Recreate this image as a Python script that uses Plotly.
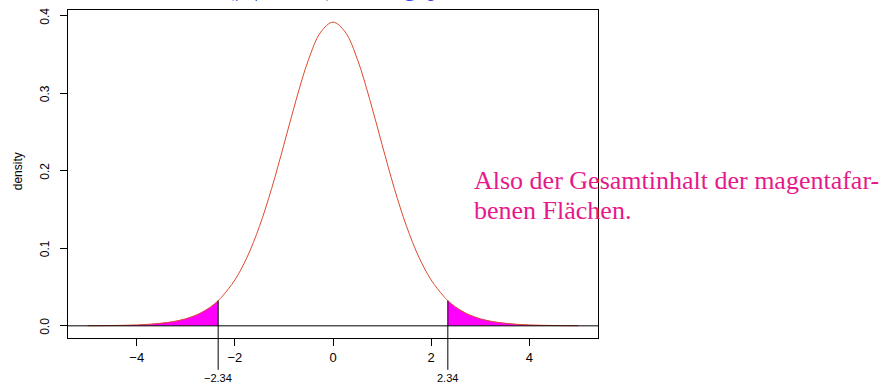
import plotly.graph_objects as go

# density curve
x_vals = [-5, -4.75, -4.5, -4.25, -4, -3.75, -3.5, -3.25, -3, -2.75, -2.5, -2.34, -2.25, -2,
          -1.75, -1.5, -1.25, -1, -0.75, -0.5, -0.25, 0,
          0.25, 0.5, 0.75, 1, 1.25, 1.5, 1.75, 2, 2.25, 2.34, 2.5, 2.75, 3, 3.25, 3.5,
          3.75, 4, 4.25, 4.5, 4.75, 5]
y_vals = [0.00015, 0.00025, 0.00042, 0.00070, 0.00118, 0.00197, 0.00330, 0.00551, 0.00912,
          0.0149, 0.0241, 0.0325, 0.0385, 0.0591, 0.0886, 0.1280, 0.1772, 0.2337, 0.2917,
          0.3431, 0.3788, 0.3916,
          0.3788, 0.3431, 0.2917, 0.2337, 0.1772, 0.1280, 0.0886, 0.0591, 0.0385, 0.0325,
          0.0241, 0.0149, 0.00912, 0.00551, 0.00330, 0.00197, 0.00118, 0.00070, 0.00042,
          0.00025, 0.00015]
crit = 2.34
x_ticks = [-4, -2, 0, 2, 4]
y_ticks = [0.0, 0.1, 0.2, 0.3, 0.4]

x_range = [-5.4, 5.4]
y_range = [-0.0157, 0.4073]

fig = go.Figure()

# magenta tails
left = [(a, b) for a, b in zip(x_vals, y_vals) if a <= -crit]
right = [(a, b) for a, b in zip(x_vals, y_vals) if a >= crit]
for pts in (left, right):
    xs = [p[0] for p in pts]
    ys = [p[1] for p in pts]
    fig.add_trace(go.Scatter(x=xs + [xs[-1], xs[0]], y=ys + [0, 0], fill="toself",
                             fillcolor="#ff00ff", line=dict(width=0), mode="lines",
                             hoverinfo="skip"))

fig.add_trace(go.Scatter(x=x_vals, y=y_vals, mode="lines",
                         line=dict(color="#dd4a2e", width=1, shape="spline")))

# zero line
fig.add_shape(type="line", xref="paper", yref="y", x0=0, x1=1, y0=0, y1=0,
              line=dict(color="black", width=1))

# critical value lines, going down below the axis
f_crit = [b for a, b in zip(x_vals, y_vals) if a == crit][0]
top_p = (f_crit - y_range[0]) / (y_range[1] - y_range[0])
for c in (-crit, crit):
    fig.add_shape(type="line", xref="x", yref="paper", x0=c, x1=c, y0=top_p, y1=-0.097,
                  line=dict(color="black", width=1))
    fig.add_annotation(x=c, y=-0.097, xref="x", yref="paper", text=f"{c:.2f}".replace("-", "−"),
                       showarrow=False, yanchor="top",
                       font=dict(family="Liberation Sans", size=11, color="black"))

# y tick labels, rotated like R draws them
for t in y_ticks:
    fig.add_annotation(x=-0.0434, y=t, xref="paper", yref="y", text=f"{t:.1f}",
                       textangle=-90, showarrow=False, xanchor="center", yanchor="middle",
                       font=dict(family="Liberation Sans", size=12, color="black"))

fig.add_annotation(x=-0.094, y=0.509, xref="paper", yref="paper", text="density",
                   textangle=-90, showarrow=False, xanchor="center", yanchor="middle",
                   font=dict(family="Liberation Sans", size=12, color="black"))

# text on the right, one annotation per line
lines = ["Also der Gesamtinhalt der magentafar-", "benen Flächen."]
for txt, yp in zip(lines, [0.4787, 0.3872]):
    fig.add_annotation(x=0.762, y=yp, xref="paper", yref="paper", xanchor="left",
                       yanchor="middle", showarrow=False, text=txt,
                       font=dict(family="Liberation Serif", size=26, color="#e6198c"))

# title cut off at the top of the page
fig.add_annotation(x=0.27, y=1.021, xref="paper", yref="paper", xanchor="left", yanchor="bottom",
                   showarrow=False, text="P(|T| ≥ 2.34), der sog. p-Wert",
                   font=dict(family="Liberation Serif", size=24, color="#3344ee"))

fig.update_layout(
    width=889, height=383,
    margin=dict(l=68, r=291, t=10, b=45),
    plot_bgcolor="white", paper_bgcolor="white",
    showlegend=False,
    font=dict(family="Liberation Sans", size=13, color="black"),
)
fig.update_xaxes(range=x_range, tickvals=x_ticks, ticktext=[str(t).replace("-", "−") for t in x_ticks],
                 ticks="outside", ticklen=7, tickcolor="black", showgrid=False, zeroline=False,
                 showline=True, linecolor="black", linewidth=1, mirror=True)
fig.update_yaxes(range=y_range, tickvals=y_ticks, showticklabels=False,
                 ticks="outside", ticklen=7, tickcolor="black", showgrid=False,
                 zeroline=False, showline=True, linecolor="black", linewidth=1, mirror=True)

# drop the default 8px body margin so the figure sits at the page corner
fig.write_html("out.html", config={"displayModeBar": False},
               post_script="document.body.style.margin = '0';")
